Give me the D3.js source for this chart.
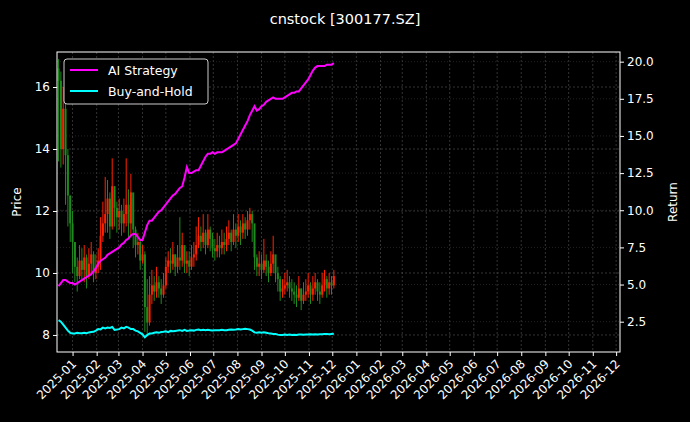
<!DOCTYPE html>
<html><head><meta charset="utf-8">
<script src="https://cdn.jsdelivr.net/npm/d3@7"></script>
<style>body{margin:0;background:#000}svg{display:block}text{font-family:"DejaVu Sans",sans-serif;fill:#fff}</style>
</head><body><svg id="c" width="690" height="422"></svg>
<script>
const startDate = "2024-12-14"; // first bar, one bar every 3 calendar days
const stepDays = 3;
const close = [16.2,14.0,15.3,13.8,12.5,11.6,11.0,10.2,9.9,10.4,
10.1,10.5,9.9,10.3,10.6,10.0,10.2,10.4,11.2,11.6,
11.9,12.4,11.5,12.8,12.1,11.8,12.0,11.6,11.9,12.2,
11.6,12.6,11.4,10.9,11.0,10.4,10.6,8.9,8.4,9.3,
9.6,9.4,9.7,9.5,9.3,9.6,10.2,10.4,10.3,10.6,
10.2,10.5,10.4,10.9,10.3,10.4,10.2,10.5,10.6,10.9,
11.2,11.0,11.3,10.9,11.4,11.1,10.8,10.7,10.9,10.8,
11.0,10.9,11.1,11.3,11.0,11.4,11.2,11.5,11.3,11.6,
11.4,11.7,11.9,11.6,10.5,10.2,10.3,10.1,10.4,10.2,
10.0,10.3,10.6,10.0,9.8,9.4,9.5,9.6,9.7,9.5,
9.4,9.3,9.2,9.5,9.1,9.3,9.4,9.6,9.3,9.5,
9.7,9.4,9.3,9.6,9.8,9.5,9.7,9.6,9.9];
const high = [16.9,16.5,16.0,15.5,14.0,12.5,12.0,11.0,10.5,10.9,
10.8,10.9,10.6,10.8,11.0,10.7,10.6,10.8,11.8,12.3,
13.1,13.0,12.6,13.7,12.8,12.3,12.4,12.2,12.4,13.7,
12.7,13.2,12.4,11.5,11.3,11.1,10.9,10.7,9.8,9.9,
10.1,9.9,10.2,9.9,9.8,10.0,10.5,10.7,10.8,11.0,
10.6,10.9,11.8,11.3,10.8,10.7,10.7,10.9,11.0,11.5,
11.8,11.5,11.9,11.4,11.9,11.5,11.3,11.1,11.3,11.2,
11.4,11.3,11.5,11.7,11.4,11.9,11.6,11.9,11.7,11.9,
11.8,12.0,12.1,12.0,11.5,10.6,10.7,10.6,11.1,10.6,
10.4,10.7,11.2,10.5,10.2,9.9,9.8,10.0,10.1,9.9,
9.8,9.7,9.6,9.9,9.5,9.7,9.8,10.0,9.7,9.9,
10.0,9.8,9.7,10.0,10.1,9.9,10.0,9.9,10.1];
const low = [13.6,13.4,13.5,12.2,11.5,11.0,10.0,9.7,9.4,9.8,
9.8,9.7,9.5,9.8,10.0,9.7,9.8,10.0,10.1,11.0,
11.3,11.3,11.1,11.4,11.5,11.3,11.4,11.2,11.3,11.5,
11.1,11.2,10.8,10.5,10.6,10.1,10.3,8.1,8.0,8.3,
9.0,9.1,9.2,9.2,9.0,9.2,9.5,10.0,10.0,10.1,
9.9,10.0,10.1,10.2,10.0,10.0,9.9,10.1,10.2,10.4,
10.8,10.7,10.8,10.6,10.8,10.7,10.5,10.4,10.5,10.5,
10.6,10.6,10.7,10.9,10.7,10.9,10.8,11.0,10.9,11.1,
11.1,11.2,11.4,11.0,10.1,9.9,9.9,9.8,10.0,9.9,
9.7,9.9,10.0,9.7,9.4,9.1,9.2,9.3,9.4,9.2,
9.1,9.0,8.9,9.1,8.8,9.0,9.1,9.2,9.0,9.1,
9.3,9.1,9.0,9.2,9.4,9.2,9.3,9.3,9.5];
const aiStrategy = [4.9,5.1,5.3,5.3,5.2,5.1,5.1,5.0,5.1,5.2,
5.3,5.4,5.5,5.6,5.7,5.9,6.1,6.4,6.6,6.7,
6.8,7.0,7.1,7.2,7.3,7.4,7.5,7.7,7.8,8.0,
8.1,8.3,8.4,8.4,8.2,8.0,8.0,8.5,9.0,9.3,
9.3,9.5,9.7,9.9,10.0,10.2,10.4,10.6,10.8,11.0,
11.1,11.3,11.5,11.6,12.2,12.9,12.5,12.5,12.6,12.7,
12.7,13.0,13.3,13.6,13.8,13.8,13.9,13.8,13.9,13.9,
13.9,14.0,14.1,14.2,14.3,14.4,14.5,14.8,15.1,15.4,
15.7,16.0,16.4,16.7,17.0,16.7,16.8,17.0,17.1,17.3,
17.4,17.5,17.6,17.5,17.5,17.5,17.5,17.6,17.7,17.8,
17.9,17.9,18.0,18.0,18.2,18.4,18.6,18.8,19.1,19.4,
19.6,19.7,19.7,19.7,19.7,19.8,19.8,19.8,19.9];
const buyHold = [2.6,2.5,2.3,2.1,1.9,1.75,1.7,1.7,1.75,1.72,
1.72,1.75,1.73,1.78,1.8,1.82,1.9,2.0,1.98,2.1,
2.05,2.1,2.08,2.15,1.95,1.97,2.0,2.1,2.05,2.15,
2.1,2.0,2.0,1.9,1.85,1.75,1.65,1.45,1.6,1.7,
1.7,1.75,1.78,1.75,1.8,1.82,1.85,1.8,1.88,1.85,
1.88,1.9,1.93,1.88,1.95,1.88,1.9,1.93,1.9,1.95,
1.97,1.92,1.95,1.92,1.95,1.93,1.9,1.92,1.93,1.92,
1.95,1.93,1.92,1.95,1.97,1.95,1.97,2.0,1.97,2.0,
2.03,2.0,1.97,1.9,1.78,1.75,1.78,1.75,1.78,1.75,
1.72,1.7,1.67,1.67,1.63,1.6,1.6,1.63,1.6,1.63,
1.6,1.62,1.6,1.63,1.63,1.62,1.64,1.63,1.65,1.64,
1.65,1.64,1.65,1.66,1.67,1.67,1.66,1.67,1.68];
const priceTicks = [8,10,12,14,16];
const returnTicks = [2.5,5.0,7.5,10.0,12.5,15.0,17.5,20.0];

const parse = d3.timeParse("%Y-%m-%d");
const t0 = parse(startDate);
const dates = close.map((_, i) => d3.timeDay.offset(t0, i * stepDays));
const bars = close.map((c, i) => ({d: dates[i], o: i ? close[i-1] : high[0]-0.3, c, h: high[i], l: low[i]}));

const svg = d3.select("#c");
svg.append("rect").attr("width",690).attr("height",422).attr("fill","#000");
const L=57,R=620,T=52,B=352;
const x = d3.scaleTime().domain([parse("2024-12-12"), parse("2026-12-06")]).range([L,R]);
const yP = d3.scaleLinear().domain([7.45,17.13]).range([B,T]);
const yR = d3.scaleLinear().domain([0.46,20.65]).range([B,T]);
const months = d3.timeMonth.range(parse("2025-01-01"), parse("2027-01-01"));

const g = svg.append("g");
g.selectAll(".gx").data(months).join("line").attr("x1",d=>x(d)).attr("x2",d=>x(d)).attr("y1",T).attr("y2",B)
 .attr("stroke","#555").attr("stroke-width",0.6).attr("stroke-dasharray","2,2");
g.selectAll(".gy").data(priceTicks).join("line").attr("x1",L).attr("x2",R).attr("y1",d=>yP(d)).attr("y2",d=>yP(d))
 .attr("stroke","#555").attr("stroke-width",0.6).attr("stroke-dasharray","2,2");
g.selectAll(".gr").data(returnTicks).join("line").attr("x1",L).attr("x2",R).attr("y1",d=>yR(d)).attr("y2",d=>yR(d))
 .attr("stroke","#444").attr("stroke-width",0.5).attr("stroke-dasharray","1,2");

const up="#ff2200", dn="#1f8a1f";
const cg = svg.append("g");
cg.selectAll("line").data(bars).join("line").attr("x1",d=>x(d.d)).attr("x2",d=>x(d.d))
 .attr("y1",d=>yP(d.h)).attr("y2",d=>yP(d.l)).attr("stroke",d=>d.c>=d.o?up:dn).attr("stroke-width",1);
cg.selectAll("rect").data(bars).join("rect").attr("x",d=>x(d.d)-1).attr("width",2)
 .attr("y",d=>yP(Math.max(d.o,d.c))).attr("height",d=>Math.max(1,Math.abs(yP(d.o)-yP(d.c))))
 .attr("fill",d=>d.c>=d.o?up:dn);

const ln = arr => d3.line().x((d,i)=>x(dates[i])).y(d=>yR(d))(arr);
svg.append("path").attr("d",ln(aiStrategy)).attr("fill","none").attr("stroke","#ff00ff").attr("stroke-width",2);
svg.append("path").attr("d",ln(buyHold)).attr("fill","none").attr("stroke","#00ffff").attr("stroke-width",2);

svg.append("rect").attr("x",L).attr("y",T).attr("width",R-L).attr("height",B-T).attr("fill","none").attr("stroke","#fff").attr("stroke-width",1);

const fmt = d3.timeFormat("%Y-%m");
const xa = svg.append("g").attr("transform",`translate(0,${B})`).call(d3.axisBottom(x).tickValues(months).tickFormat(fmt).tickSize(4));
xa.selectAll("text").attr("transform","rotate(-45)").attr("text-anchor","end").attr("dx","-0.5em").attr("dy","0.4em");
const ya = svg.append("g").attr("transform",`translate(${L},0)`).call(d3.axisLeft(yP).tickValues(priceTicks).tickFormat(d3.format("d")).tickSize(4));
const yr = svg.append("g").attr("transform",`translate(${R},0)`).call(d3.axisRight(yR).tickValues(returnTicks).tickFormat(d3.format(".1f")).tickSize(4));
[xa,ya,yr].forEach(a=>{a.select(".domain").remove();a.selectAll("line").attr("stroke","#fff");a.selectAll("text").attr("fill","#fff").style("font-size","12px").style("font-family","DejaVu Sans");});

svg.append("text").attr("x",345).attr("y",24).attr("text-anchor","middle").style("font-size","14.5px").text("cnstock [300177.SZ]");
svg.append("text").attr("transform","translate(21,202) rotate(-90)").attr("text-anchor","middle").style("font-size","12px").text("Price");
svg.append("text").attr("transform","translate(677,202) rotate(-90)").attr("text-anchor","middle").style("font-size","12px").text("Return");

const lg = svg.append("g");
lg.append("rect").attr("x",64).attr("y",59).attr("width",144).attr("height",45).attr("rx",3).attr("fill","#000").attr("stroke","#ccc").attr("stroke-width",1);
[["AI Strategy","#ff00ff"],["Buy-and-Hold","#00ffff"]].forEach((e,i)=>{
  const yy = 70 + i*21;
  lg.append("line").attr("x1",70).attr("x2",98).attr("y1",yy).attr("y2",yy).attr("stroke",e[1]).attr("stroke-width",2);
  lg.append("text").attr("x",108).attr("y",yy+4.5).style("font-size","12.5px").text(e[0]);
});
</script></body></html>
